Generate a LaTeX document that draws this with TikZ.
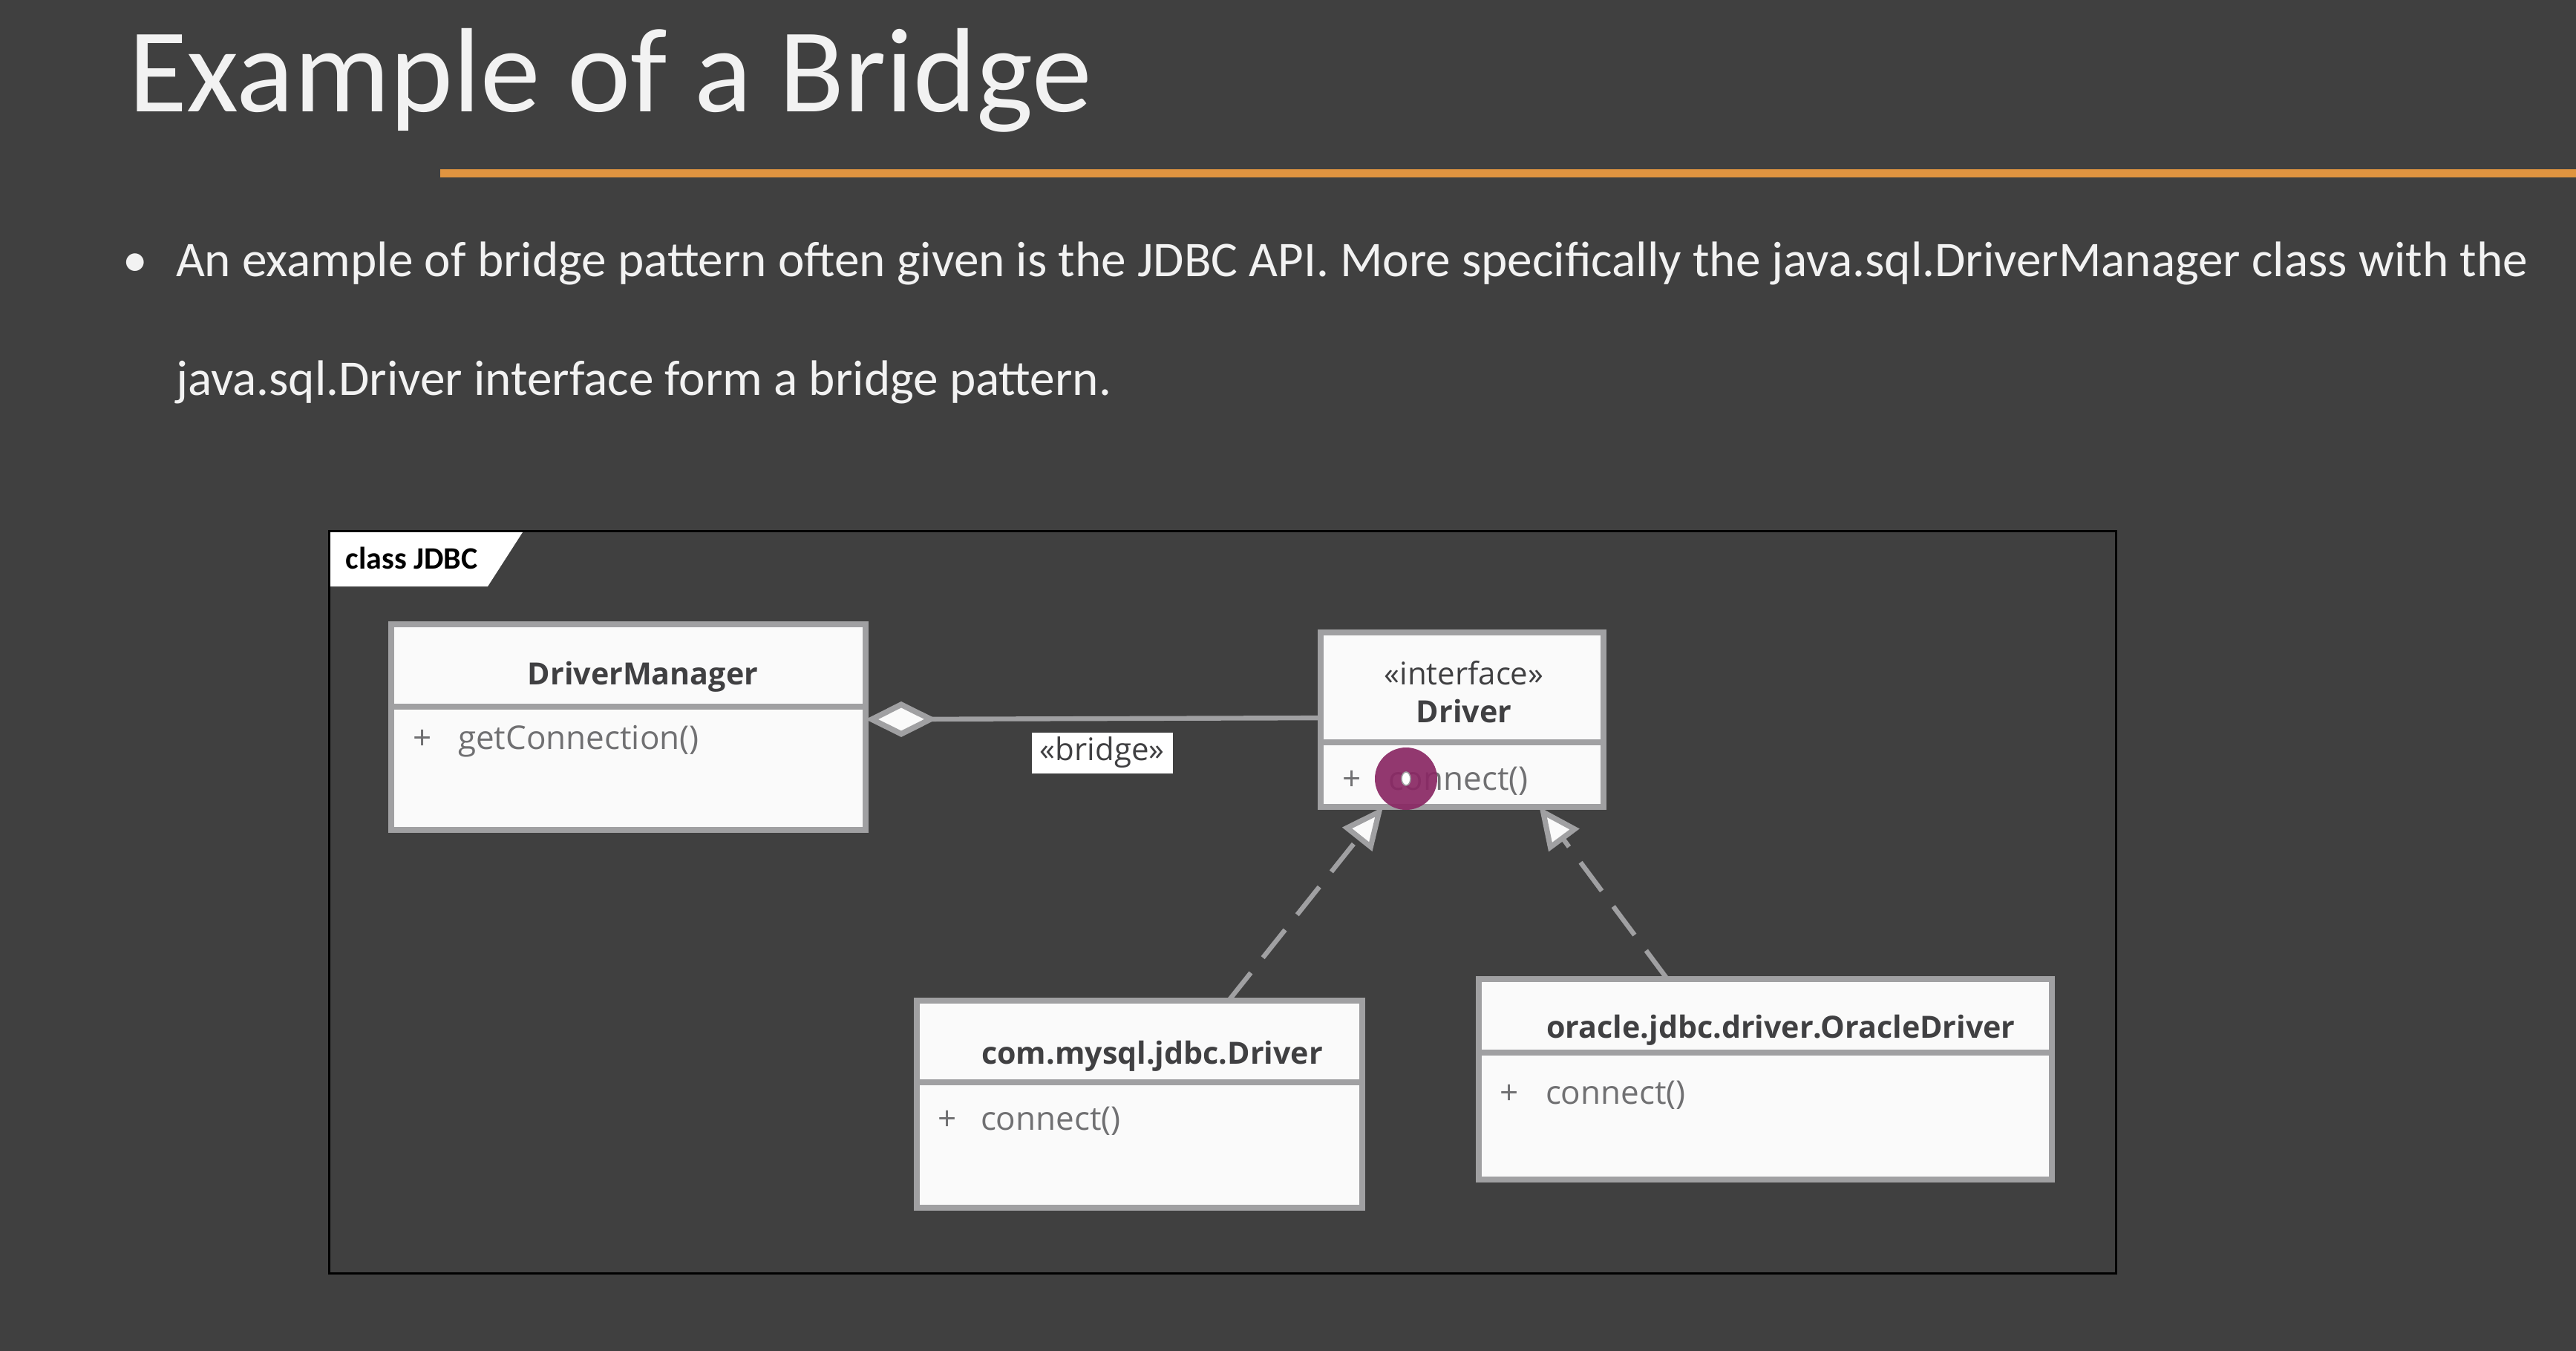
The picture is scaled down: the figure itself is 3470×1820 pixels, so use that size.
\documentclass[tikz,border=0pt]{standalone}
\usepackage{fontspec}
\setmainfont{Carlito}
\newfontfamily\umlfont{Open Sans}
\usetikzlibrary{arrows.meta}

\begin{document}
\begin{tikzpicture}[x=0.25pt,y=-0.25pt,
  slideText/.style={text=textColor,anchor=base west,inner sep=0pt,outer sep=0pt},
  classBox/.style={draw=boxColor,line width=2.1pt,fill=boxFill,inner sep=0pt,outer sep=0pt},
  classTitle/.style={text=titleColor,anchor=mid,inner sep=0pt,outer sep=0pt,font=\umlfont\fontsize{10.3}{12}\selectfont\bfseries},
  classMember/.style={text=memberColor,anchor=mid west,inner sep=0pt,outer sep=0pt,font=\umlfont\fontsize{11}{13}\selectfont},
  realizes/.style={draw=boxColor,line width=1.6pt,dash pattern=on 12pt off 6.5pt,
    -{Triangle[fill=boxFill,length=14pt,width=12.5pt,line width=1.8pt]}}]
\definecolor{bgColor}{RGB}{64,64,64}
\definecolor{textColor}{RGB}{242,242,242}
\definecolor{ruleColor}{RGB}{224,148,64}
\definecolor{boxColor}{RGB}{160,160,162}
\definecolor{boxFill}{RGB}{250,250,250}
\definecolor{titleColor}{RGB}{64,64,66}
\definecolor{memberColor}{RGB}{112,112,114}
\definecolor{cursorColor}{RGB}{138,40,100}
\path[use as bounding box,fill=bgColor] (0,0) rectangle (3470,1820);

\node[slideText,font=\fontsize{40.4}{48}\selectfont] (title) at (173,151) {Example of a Bridge};
\path[fill=ruleColor] (593,228) rectangle (3470,239);
\node[slideText,font=\fontsize{16.8}{20}\selectfont] (bullet) at (166,372) {•};
\node[slideText,font=\fontsize{16.8}{20}\selectfont] (line1) at (237,372) {An example of bridge pattern often given is the JDBC API. More specifically the java.sql.DriverManager class with the};
\node[slideText,font=\fontsize{16.8}{20}\selectfont] (line2) at (237,532) {java.sql.Driver interface form a bridge pattern.};

\path[draw=black,line width=0.75pt] (443,715) rectangle (2850,1715);
\path[fill=white] (445,717) -- (704,717) -- (657,790) -- (445,790) -- cycle;
\node[anchor=mid west,inner sep=0pt,font=\fontsize{10.5}{12}\selectfont\bfseries] (frameLbl) at (465,757) {class JDBC};

\node[classBox,minimum width=159.75pt,minimum height=69.25pt] (mgr) at (846.5,979.5) {};
\path[draw=boxColor,line width=2.1pt] (527,952) -- (1166,952);
\node[classTitle] (mgrName) at (866,913) {DriverManager};
\node[classMember] (mgrPlus) at (556,1000) {+};
\node[classMember] (mgrOp) at (617,1000) {getConnection()};

\node[classBox,minimum width=95.25pt,minimum height=58.75pt] (drv) at (1969.5,969.5) {};
\path[draw=boxColor,line width=2.1pt] (1779,1000) -- (2160,1000);
\node[classTitle,font=\umlfont\fontsize{10.5}{12}\selectfont] (drvStereo) at (1972,913) {«interface»};
\node[classTitle] (drvName) at (1972,964) {Driver};
\node[classMember] (drvPlus) at (1808,1055) {+};
\node[classMember] (drvOp) at (1870,1055) {connect()};

\node[classBox,minimum width=150pt,minimum height=69.75pt] (mysql) at (1535,1487.5) {};
\path[draw=boxColor,line width=2.1pt] (1235,1458) -- (1835,1458);
\node[classTitle] (mysqlName) at (1552,1424) {com.mysql.jdbc.Driver};
\node[classMember] (mysqlPlus) at (1263,1513) {+};
\node[classMember] (mysqlOp) at (1321,1513) {connect()};

\node[classBox,minimum width=193pt,minimum height=67.5pt] (oracle) at (2378,1454) {};
\path[draw=boxColor,line width=2.1pt] (1992,1418) -- (2764,1418);
\node[classTitle] (oracleName) at (2399,1389) {oracle.jdbc.driver.OracleDriver};
\node[classMember] (oraclePlus) at (2020,1478) {+};
\node[classMember] (oracleOp) at (2082,1478) {connect()};

\draw[draw=boxColor,line width=1.6pt,{Diamond[fill=boxFill,length=24pt,width=12pt,line width=1.9pt]}-]
  ([yshift=2.6pt]mgr.east) -- ([yshift=0.6pt]drv.west)
  node[pos=0.52,yshift=-11.5pt,fill=white,text=titleColor,inner sep=0pt,minimum width=47.5pt,minimum height=13.75pt,font=\umlfont\fontsize{10.5}{12}\selectfont] (bridgeLbl) {«bridge»};

\draw[realizes] ([xshift=30pt]mysql.north) -- ([xshift=-26.6pt]drv.south);
\draw[realizes] ([xshift=-33pt]oracle.north) -- ([xshift=26pt]drv.south);

\path[fill=cursorColor,fill opacity=0.92] (1894,1049) circle [radius=42];
\path[fill=white,draw=boxColor,line width=0.4pt] (1894,1049) ellipse [x radius=6,y radius=9];
\end{tikzpicture}
\end{document}
